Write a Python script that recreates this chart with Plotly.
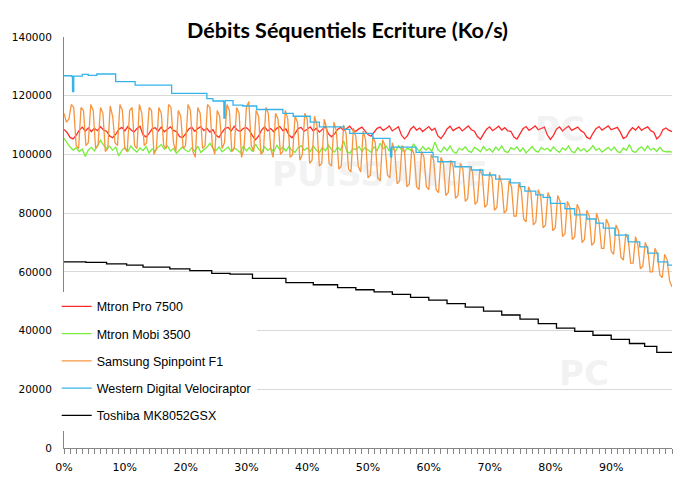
import numpy as np
import plotly.graph_objects as go

# ---------------- data (values in Ko/s, written in thousands) ----------------
names = ["Mtron Pro 7500", "Mtron Mobi 3500", "Samsung Spinpoint F1",
         "Western Digital Velociraptor", "Toshiba MK8052GSX"]
colors = ["#ff2a2a", "#77ee3c", "#f7953f", "#36b4e8", "#000000"]

# x positions in % of disk capacity
x_fine = list(np.round(np.arange(0, 100.01, 0.5), 2))     # red / green
x_orange = list(np.round(np.arange(0, 100.01, 0.4), 2))   # samsung

mtron_pro_k = [
    108.5, 107.5, 105.8, 105.3, 106.5, 108.2, 109.3, 108.0, 109.0, 107.8, 108.9, 108.1, 109.4, 108.3, 107.9, 106.3, 105.7, 106.8, 108.5, 109.2,
    108.0, 109.5, 108.4, 107.6, 108.8, 109.6, 106.7, 105.9, 107.2, 108.7, 109.1, 108.0, 109.3, 107.7, 108.6, 109.4, 108.2, 107.8, 106.1, 105.7,
    107.0, 108.6, 109.3, 107.9, 108.8, 109.5, 108.1, 108.9, 107.6, 108.4, 106.5, 105.8, 107.5, 108.9, 109.2, 108.0, 109.6, 108.3, 107.8, 108.9,
    109.1, 108.2, 106.3, 105.0, 106.2, 108.3, 109.4, 108.0, 108.8, 107.7, 108.9, 109.5, 108.1, 108.7, 106.6, 105.7, 107.1, 108.8, 109.2, 107.9,
    108.6, 109.4, 108.0, 108.9, 107.6, 108.7, 109.5, 107.0, 106.0, 107.0, 108.5, 109.2, 108.1, 108.8, 109.6, 108.3, 107.9, 108.7, 109.3, 108.0,
    106.8, 106.2, 107.6, 108.9, 109.3, 108.2, 108.8, 109.7, 108.0, 108.6, 109.4, 106.6, 105.3, 106.4, 108.6, 109.5, 108.3, 109.0, 107.8, 108.7,
    109.5, 108.2, 108.9, 106.3, 105.4, 106.8, 108.7, 109.6, 108.1, 108.8, 109.3, 108.0, 108.9, 109.7, 108.4, 107.9, 106.1, 105.2, 106.9, 108.6,
    109.4, 108.1, 108.8, 109.6, 108.3, 109.1, 108.0, 107.9, 105.9, 105.2, 107.0, 108.8, 109.5, 108.2, 108.9, 109.7, 108.4, 108.8, 109.3, 106.6,
    105.1, 106.5, 108.6, 109.4, 108.0, 108.9, 109.6, 108.2, 108.7, 109.3, 108.1, 107.5, 105.8, 105.3, 107.2, 108.8, 109.5, 108.3, 109.0, 109.7,
    108.4, 108.9, 109.2, 107.6, 105.4, 106.0, 107.9, 109.1, 108.3, 109.5, 108.2, 108.9, 109.4, 108.1, 107.6, 105.3, 106.3, 108.4, 109.0, 108.2,
    107.8]

mtron_mobi_k = [
    105.5, 104.0, 102.5, 101.5, 102.3, 101.0, 101.8, 99.3, 101.5, 102.4, 101.2, 103.0, 104.8, 103.2, 102.0, 102.8, 101.4, 102.6, 99.5, 101.3,
    102.4, 101.0, 102.9, 101.6, 100.8, 102.2, 101.3, 102.7, 100.5, 101.9, 101.1, 102.5, 103.4, 101.8, 102.9, 101.2, 102.0, 100.4, 101.7, 102.6,
    101.4, 100.9, 102.3, 101.1, 102.8, 100.7, 101.6, 102.4, 103.8, 102.0, 101.3, 102.6, 100.9, 101.8, 102.5, 101.0, 102.2, 101.5, 100.6, 102.9,
    101.2, 102.4, 101.0, 103.5, 101.8, 100.8, 102.6, 101.4, 102.1, 100.9, 103.2, 101.6, 102.5, 101.1, 102.7, 101.3, 100.7, 102.3, 103.0, 101.4,
    102.2, 101.0, 102.8, 101.5, 100.6, 102.4, 101.2, 103.1, 101.7, 100.8, 102.5, 101.4, 104.6, 101.1, 100.4, 102.0, 101.6, 102.7, 101.0, 102.3,
    101.5, 100.7, 102.6, 101.3, 103.8, 101.9, 102.8, 101.2, 102.4, 101.0, 102.9, 101.6, 100.9, 102.2, 101.4, 103.6, 102.0, 101.1, 102.7, 101.5,
    102.3, 101.0, 104.2, 101.6, 100.8, 102.5, 101.3, 102.9, 101.0, 100.4, 102.1, 101.5, 102.6, 101.2, 100.7, 102.4, 101.8, 100.9, 102.7, 101.3,
    102.0, 100.8, 102.5, 101.4, 102.9, 101.1, 100.6, 102.3, 101.7, 102.6, 101.0, 102.2, 100.5, 101.8, 102.7, 101.3, 100.8, 102.4, 101.6, 102.1,
    101.1, 102.6, 101.4, 100.7, 102.2, 101.5, 102.9, 101.0, 100.6, 102.3, 101.2, 102.0, 100.9, 101.7, 103.0, 101.4, 102.1, 100.8, 101.6, 102.4,
    101.3, 102.5, 101.0, 100.6, 102.2, 101.4, 103.4, 101.1, 100.7, 101.9, 102.6, 101.3, 102.9, 101.5, 102.1, 101.0, 102.4, 101.2, 100.9, 101.0,
    100.8]

samsung_k = [
    114, 111, 112, 117, 116, 103, 102, 116, 115, 103, 104, 117, 115, 102, 103, 116, 114, 101, 102, 116.5, 113, 104, 103, 117, 115,
    102, 101, 115, 116, 103, 102, 117, 114, 103, 104, 116, 115, 100, 102, 116, 114, 103, 102, 117, 116, 104, 101, 115, 113, 102,
    103, 117, 115, 101, 99, 116, 114, 102, 103, 117, 116, 103, 100, 115, 113, 102, 104, 117, 115, 101, 102, 116, 114, 99, 102,
    116, 118, 103, 101, 115, 113, 100, 101, 116, 114, 102, 99, 114, 112, 100, 101, 115, 112, 99, 100, 113, 111, 98, 100, 114,
    112, 97, 98, 113, 110, 96, 97, 112, 109, 97, 96, 111, 108, 95, 96, 110, 107, 95, 94, 109, 106, 96, 94, 108, 105,
    92, 93, 106, 104, 92, 91, 105, 103, 93, 92, 104, 101, 90, 91, 103, 101, 89, 90, 102, 100, 89, 88, 101, 99, 89,
    88, 100, 98, 88, 87, 99, 97, 86, 87, 98, 96, 85, 86, 97, 95, 84, 85, 96, 94, 83, 84, 95, 93, 82, 83,
    94, 92, 81, 82, 93, 90, 80, 81, 91, 89, 79, 79, 90, 88, 78, 77, 89, 87, 76, 77, 88, 86, 75, 76, 87,
    85, 74, 75, 86, 84, 72, 73, 84, 82, 71, 72, 83, 81, 70, 71, 81, 79, 69, 70, 80, 77, 68, 68, 78, 76,
    67, 66, 76, 74, 65, 64, 73, 71, 63, 63, 72, 69, 61, 62, 70, 68, 60, 60, 68, 66, 59, 58, 66, 64, 57,
    54.8]

wd_x = [0, 1.3, 1.4, 1.6, 3, 4, 5.4, 8.5, 11.7, 17.7, 23.5, 24.5, 26.2, 26.3, 26.5, 27.8, 29.4,
        31.7, 36, 37.7, 40.5, 42, 46, 47, 50.8, 53.6, 53.7, 53.9, 57.9, 60.7, 61.5, 64.3, 67,
        68.9, 71, 73.4, 75, 75.8, 77.6, 78.8, 80, 82.4, 84, 86, 87.5, 88.7, 90.6, 92.8, 94.7,
        96, 97.7, 99.3, 100]
wd_k = [126.8, 126.5, 121.4, 126.7, 127.3, 126.9, 127.4, 124.8, 123.6, 120.8, 119.0, 118.2, 118.0, 112.4, 118.3, 116.8, 116.5,
        115.3, 114.0, 113.0, 111.0, 109.4, 108.5, 107.2, 105.5, 102.0, 99.2, 102.5, 100.7, 99.2, 97.5, 95.8, 94.7,
        93.0, 91.6, 90.3, 89.0, 87.5, 86.2, 85.4, 83.3, 81.5, 79.4, 78.0, 76.6, 74.9, 72.5, 70.2, 68.5,
        66.4, 63.4, 62.3, 62.3]

tosh_x = [0, 3.6, 7, 10.3, 13, 17.4, 20.7, 24.3, 27.3, 31, 36.5, 41, 45, 48, 51, 54, 57, 60, 63,
          66, 69, 72, 75, 78, 81, 84, 87, 90, 93, 95.5, 97.5, 100]
tosh_k = [63.4, 63.2, 62.7, 62.3, 61.6, 61.0, 60.4, 59.5, 59.2, 57.8, 56.3, 55.6, 54.6, 53.9, 53.2, 52.3, 51.3, 50.4, 49.2,
          48.0, 46.6, 45.3, 43.9, 42.4, 40.8, 39.7, 38.4, 37.0, 35.6, 34.6, 32.6, 32.4]

x_tick_vals = [0, 10, 20, 30, 40, 50, 60, 70, 80, 90]
x_tick_text = ["0%", "10%", "20%", "30%", "40%", "50%", "60%", "70%", "80%", "90%"]
y_ticks = [0, 20000, 40000, 60000, 80000, 100000, 120000, 140000]

# ---------------- figure ----------------
series = [
    (x_fine, mtron_pro_k, "linear"),
    (x_fine, mtron_mobi_k, "linear"),
    (x_orange, samsung_k, "linear"),
    (wd_x, wd_k, "hv"),
    (tosh_x, tosh_k, "hv"),
]

fig = go.Figure()
for i, (xs, ys, shape) in enumerate(series):
    fig.add_trace(go.Scatter(
        x=xs, y=[v * 1000 for v in ys], mode="lines", name=names[i],
        line=dict(color=colors[i], width=1.3, shape=shape),
        legendgroup=str(i)))

# faint watermark (kept away from real texts)
wm = dict(font=dict(family="DejaVu Sans", size=34, color="rgba(190,190,190,0.20)"),
          showarrow=False, xref="paper", yref="paper")
fig.add_annotation(text="<b>PUISSANCE</b>", x=0.70, y=0.72, **wm)
fig.add_annotation(text="<b>PC</b>", x=0.86, y=0.83, **wm)
fig.add_annotation(text="<b>PC</b>", x=0.90, y=0.13, **wm)

# the page places the figure 8px from the window's top-left corner
fig.update_layout(
    width=693, height=483,
    margin=dict(l=56, r=29, t=29, b=43),
    paper_bgcolor="white", plot_bgcolor="white",
    title=dict(text="<b>Débits Séquentiels Ecriture (Ko/s)</b>", x=0.49, xanchor="center",
               y=0.953, yanchor="middle",
               font=dict(family="Lato", size=21.5, color="#000000")),
    showlegend=True,
    legend=dict(x=-0.012, y=0.38, xanchor="left", yanchor="top",
                bgcolor="white", borderwidth=0, tracegroupgap=8,
                font=dict(family="Liberation Sans", size=12.5, color="#000000"),
                itemwidth=30),
    font=dict(family="DejaVu Sans", size=11, color="#000000"),
)

fig.update_xaxes(
    range=[0, 100], tickmode="array", tickvals=x_tick_vals, ticktext=x_tick_text,
    showline=True, linecolor="#868686", linewidth=1,
    ticks="outside", ticklen=5, tickcolor="#868686",
    minor=dict(dtick=1, ticks="outside", ticklen=5, tickcolor="#868686", showgrid=False),
    showgrid=False, zeroline=False, automargin=False, ticklabelstandoff=4,
    tickfont=dict(family="DejaVu Sans", size=11, color="#000000"),
)
fig.update_yaxes(
    range=[0, 140000], tickmode="array", tickvals=y_ticks,
    ticktext=[str(v) for v in y_ticks],
    showline=True, linecolor="#868686", linewidth=1,
    showgrid=True, gridcolor="#d9d9d9", gridwidth=1, zeroline=False,
    ticks="", ticklabelstandoff=9, automargin=False,
    tickfont=dict(family="DejaVu Sans", size=10.5, color="#000000"),
)

fig.write_html("out.html")
